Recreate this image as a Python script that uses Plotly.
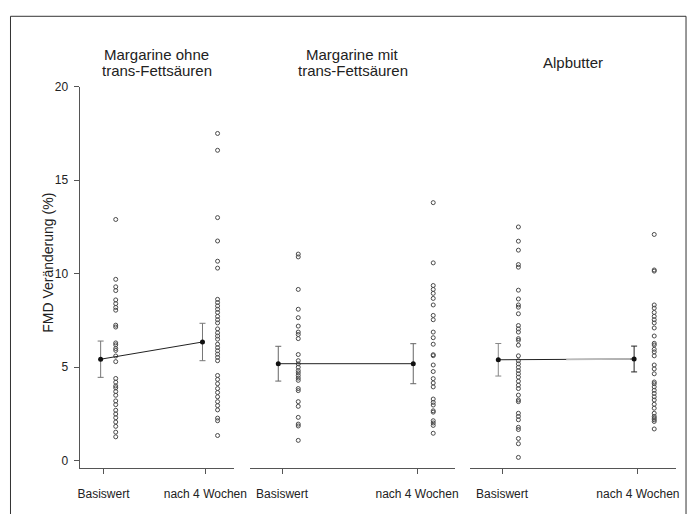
import plotly.graph_objects as go

# The page body keeps its default 8px margin, so the figure is sized to fit
# the 699x522 window exactly and all positions are given in page pixels.
PAGE_W, PAGE_H = 699, 522
OFF = 8
W, H = PAGE_W - OFF, PAGE_H - 2 * OFF

# ---------------- data ----------------
panel_titles = [["Margarine ohne", "trans-Fettsäuren"], ["Margarine mit", "trans-Fettsäuren"], ["Alpbutter"]]
tick_labels = ["Basiswert", "nach 4 Wochen"]
y_ticks = [0, 5, 10, 15, 20]
y_title = "FMD Veränderung (%)"

p1_base = [12.9, 9.7, 9.3, 9.1, 8.6, 8.4, 8.2, 8.05, 7.25, 7.15, 6.3, 6.2, 6.0, 5.9, 5.6, 5.3,
           4.4, 4.2, 4.0, 3.9, 3.7, 3.5, 3.2, 3.0, 2.7, 2.5, 2.3, 2.07, 1.84, 1.53, 1.28]
p1_after = [17.5, 16.6, 13.0, 11.75, 10.67, 10.3, 8.63, 8.46, 8.28, 8.1, 7.93, 7.72, 7.54, 7.37,
            7.05, 6.84, 6.67, 6.5, 6.23, 6.05, 5.88, 5.7, 5.53, 5.35, 4.56, 4.35, 4.12, 3.86,
            3.65, 3.42, 3.16, 2.95, 2.72, 2.28, 2.14, 1.35]
p2_base = [11.05, 10.9, 9.16, 8.1, 7.65, 7.2, 6.88, 6.75, 6.53, 5.68, 5.35, 5.18, 5.0, 4.82,
           4.7, 4.56, 4.42, 4.3, 3.86, 3.75, 3.16, 2.91, 2.32, 1.96, 1.86, 1.09]
p2_after = [13.8, 10.58, 9.37, 9.16, 8.95, 8.68, 8.33, 7.77, 7.54, 6.88, 6.58, 6.23, 5.67, 5.62,
            5.12, 4.77, 4.39, 4.16, 3.95, 3.3, 3.12, 2.98, 2.67, 2.6, 2.14, 2.02, 1.89, 1.47]
p3_base = [12.5, 11.74, 11.26, 10.49, 10.35, 9.12, 8.65, 8.33, 8.21, 7.86, 7.23, 7.05, 6.88,
           6.53, 6.44, 6.18, 5.61, 5.35, 5.18, 5.0, 4.82, 4.65, 4.47, 4.25, 4.04, 3.86, 3.51,
           3.25, 3.16, 2.54, 2.37, 2.19, 1.79, 1.67, 1.19, 0.91, 0.18]
p3_after = [12.1, 10.2, 10.14, 8.33, 8.16, 7.93, 7.72, 7.54, 7.37, 7.1, 6.67, 6.28, 6.19, 5.96,
            5.82, 5.61, 5.12, 4.91, 4.65, 4.21, 4.12, 3.95, 3.77, 3.6, 3.42, 3.25, 3.02, 2.81,
            2.54, 2.37, 2.28, 2.19, 2.1, 1.7]

means = [[5.43, 6.35], [5.19, 5.19], [5.40, 5.44]]
errors = [[0.97, 1.00], [0.93, 1.07], [0.87, 0.69]]
points = [[p1_base, p1_after], [p2_base, p2_after], [p3_base, p3_after]]

# ---------------- layout geometry (page px) ----------------
FONT = "Liberation Sans, Arial, sans-serif"
panel_px = [(79, 236.7), (253.3, 462.3), (477.7, 688)]
top_px, bot_px = 80.7, 467
x_range = [-0.235, 1.282]
PT_OFF = 0.12
MEAN_OFF = -0.028


def fx(px):
    return (px - OFF) / W


def fy(py):
    return 1 - (py - OFF) / H


fig = go.Figure()
axis_color = "#555555"
err_colors = [["#777777", "#777777"], ["#666666", "#666666"], ["#888888", "#222222"]]

for i in range(3):
    xa = "x" if i == 0 else f"x{i+1}"
    ya = "y" if i == 0 else f"y{i+1}"
    for c in range(2):
        vals = points[i][c]
        fig.add_trace(go.Scatter(
            x=[c + PT_OFF] * len(vals), y=vals, mode="markers",
            marker=dict(symbol="circle-open", size=4, color="#4a4a4a", line=dict(width=1, color="#4a4a4a")),
            xaxis=xa, yaxis=ya, showlegend=False, hoverinfo="y"))
    mx = [0 + MEAN_OFF, 1 + MEAN_OFF]
    for c in range(2):
        fig.add_trace(go.Scatter(
            x=[mx[c]], y=[means[i][c]], mode="markers",
            marker=dict(size=1, color="rgba(0,0,0,0)"),
            error_y=dict(type="data", array=[errors[i][c]], visible=True,
                         color=err_colors[i][c], thickness=1, width=3),
            xaxis=xa, yaxis=ya, showlegend=False, hoverinfo="skip"))
    fig.add_trace(go.Scatter(
        x=mx, y=means[i], mode="lines+markers",
        line=dict(color="#222222", width=1),
        marker=dict(symbol="circle", size=5, color="#111111"),
        xaxis=xa, yaxis=ya, showlegend=False))
    if i == 2:
        xm = (mx[0] + mx[1]) / 2
        ym = (means[i][0] + means[i][1]) / 2
        fig.add_trace(go.Scatter(
            x=[xm, mx[1] - 0.03], y=[ym, means[i][1]], mode="lines",
            line=dict(color="#bbbbbb", width=1.5),
            xaxis=xa, yaxis=ya, showlegend=False, hoverinfo="skip"))

ydom = [fy(bot_px), fy(top_px)]
lay = dict(
    width=W, height=H,
    margin=dict(l=0, r=0, t=0, b=0),
    paper_bgcolor="white", plot_bgcolor="white",
    font=dict(family=FONT, size=12, color="#222222"),
)
for i in range(3):
    xk = "xaxis" if i == 0 else f"xaxis{i+1}"
    yk = "yaxis" if i == 0 else f"yaxis{i+1}"
    x0, x1 = panel_px[i]
    lay[xk] = dict(
        domain=[fx(x0), fx(x1)], range=x_range, anchor="y" if i == 0 else f"y{i+1}",
        tickmode="array", tickvals=[0, 1], ticktext=tick_labels,
        showline=True, linecolor=axis_color, linewidth=1,
        ticks="outside", ticklen=5, tickcolor=axis_color, ticklabelstandoff=10,
        showgrid=False, zeroline=False, fixedrange=True,
        tickfont=dict(family=FONT, size=12, color="#222222"))
    ydict = dict(
        domain=ydom, range=[-(bot_px - 460) / 19.0, 20], anchor="x" if i == 0 else f"x{i+1}",
        showgrid=False, zeroline=False, fixedrange=True)
    if i == 0:
        ydict.update(tickmode="array", tickvals=y_ticks, showline=True, linecolor=axis_color,
                     linewidth=1, ticks="outside", ticklen=5, tickcolor=axis_color,
                     ticklabelstandoff=3,
                     tickfont=dict(family=FONT, size=12, color="#222222"))
    else:
        ydict.update(showline=False, showticklabels=False, ticks="")
    lay[yk] = ydict

fig.update_layout(**lay)

annotations = []
for i in range(3):
    x0, x1 = panel_px[i]
    lines = panel_titles[i]
    n = len(lines)
    for k, txt in enumerate(lines):
        ypix = 56 + (k - (n - 1) / 2) * 16
        annotations.append(dict(
            text=txt, xref="paper", yref="paper",
            x=fx((x0 + x1) / 2), y=fy(ypix), xanchor="center", yanchor="middle",
            showarrow=False, font=dict(family=FONT, size=15, color="#222222")))
annotations.append(dict(
    text=y_title, xref="paper", yref="paper", x=fx(46), y=fy(259),
    textangle=-90, xanchor="center", yanchor="middle", showarrow=False,
    font=dict(family=FONT, size=14, color="#222222")))
fig.update_layout(annotations=annotations)

fig.add_shape(type="rect", xref="paper", yref="paper",
              x0=fx(8.5), x1=fx(698), y0=-0.05, y1=fy(9.3),
              line=dict(color="#333333", width=1), fillcolor="rgba(0,0,0,0)", layer="below")

fig.write_html("out.html", config={"displayModeBar": False})
